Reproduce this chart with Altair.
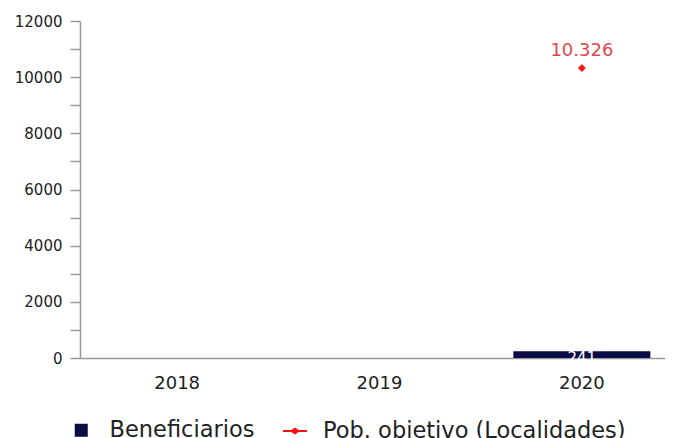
import altair as alt
import pandas as pd

years = ["2018", "2019", "2020"]
beneficiarios = [None, None, 241]
pob_objetivo = [None, None, 10326]
y_ticks = list(range(0, 12001, 1000))

bar_df = pd.DataFrame({"year": years, "value": beneficiarios, "series": "Beneficiarios"}).dropna()
pt_df = pd.DataFrame({"year": years, "value": pob_objetivo, "series": "Pob. objetivo (Localidades)"}).dropna()
bar_df["label"] = bar_df["value"].map(lambda v: f"{int(v):,}".replace(",", "."))
pt_df["label"] = pt_df["value"].map(lambda v: f"{int(v):,}".replace(",", "."))

FONT = "DejaVu Sans"
NAVY = "#0b0b45"
RED = "#ff1010"

x = alt.X("year:N", sort=years, title=None,
          scale=alt.Scale(domain=years, range=[0, 599], paddingInner=0.32, paddingOuter=0.14),
          axis=alt.Axis(labelAngle=0, labelFontSize=18, labelColor="#222", labelFont=FONT,
                        ticks=False, domainColor="#999", domainWidth=1.5, labelPadding=16))
y = alt.Y("value:Q", title=None,
          scale=alt.Scale(domain=[0, 12000], nice=False),
          axis=alt.Axis(values=y_ticks, labelExpr="datum.value % 2000 == 0 ? datum.value : ''",
                        labelFontSize=15, labelColor="#222", labelFont=FONT, grid=False,
                        tickSize=10, tickColor="#999", tickWidth=1.5, domainColor="#999",
                        domainWidth=1.5, labelPadding=8))

bars = alt.Chart(bar_df).mark_bar(size=137).encode(
    x=x, y=y,
    color=alt.Color("series:N", scale=alt.Scale(domain=["Beneficiarios"], range=[NAVY]),
                    legend=alt.Legend(title=None, orient="none", legendX=-10, legendY=398,
                                      symbolType="square", symbolSize=169, labelFontSize=22.5,
                                      labelFont=FONT, labelColor="#222", labelOffset=17,
                                      labelLimit=400, padding=0, symbolStrokeWidth=0)),
)
bar_text = alt.Chart(bar_df).mark_text(color="white", baseline="top", dy=0, fontSize=15, font=FONT).encode(
    x=x, y=y, text="label:N")

points = alt.Chart(pt_df).mark_point(shape="diamond", filled=True, color=RED, size=60, opacity=1).encode(
    x=x, y=y,
    opacity=alt.Opacity("series:N", scale=alt.Scale(domain=["Pob. objetivo (Localidades)"], range=[1]),
                        legend=alt.Legend(title=None, orient="none", legendX=203, legendY=398,
                                          symbolType="M-1,-0.085L1,-0.085L1,0.085L-1,0.085Z M0,-0.3L0.42,0L0,0.3L-0.42,0Z",
                                          symbolSize=576, symbolFillColor=RED, symbolStrokeWidth=0,
                                          labelFontSize=22.5, labelFont=FONT, labelColor="#222",
                                          labelOffset=16, labelLimit=500, padding=0)),
)
pt_text = alt.Chart(pt_df).mark_text(color="#e0474c", baseline="bottom", dy=-8, fontSize=18, font=FONT).encode(
    x=x, y=y, text="label:N")

chart = alt.layer(bars, bar_text, points, pt_text).properties(
    width=585, height=337,
    autosize=alt.AutoSizeParams(type="none"),
    padding={"left": 72, "top": 13, "right": 0, "bottom": 80},
).configure_view(stroke=None)

chart.save("out.html", embed_options={"renderer": "svg", "actions": False})
